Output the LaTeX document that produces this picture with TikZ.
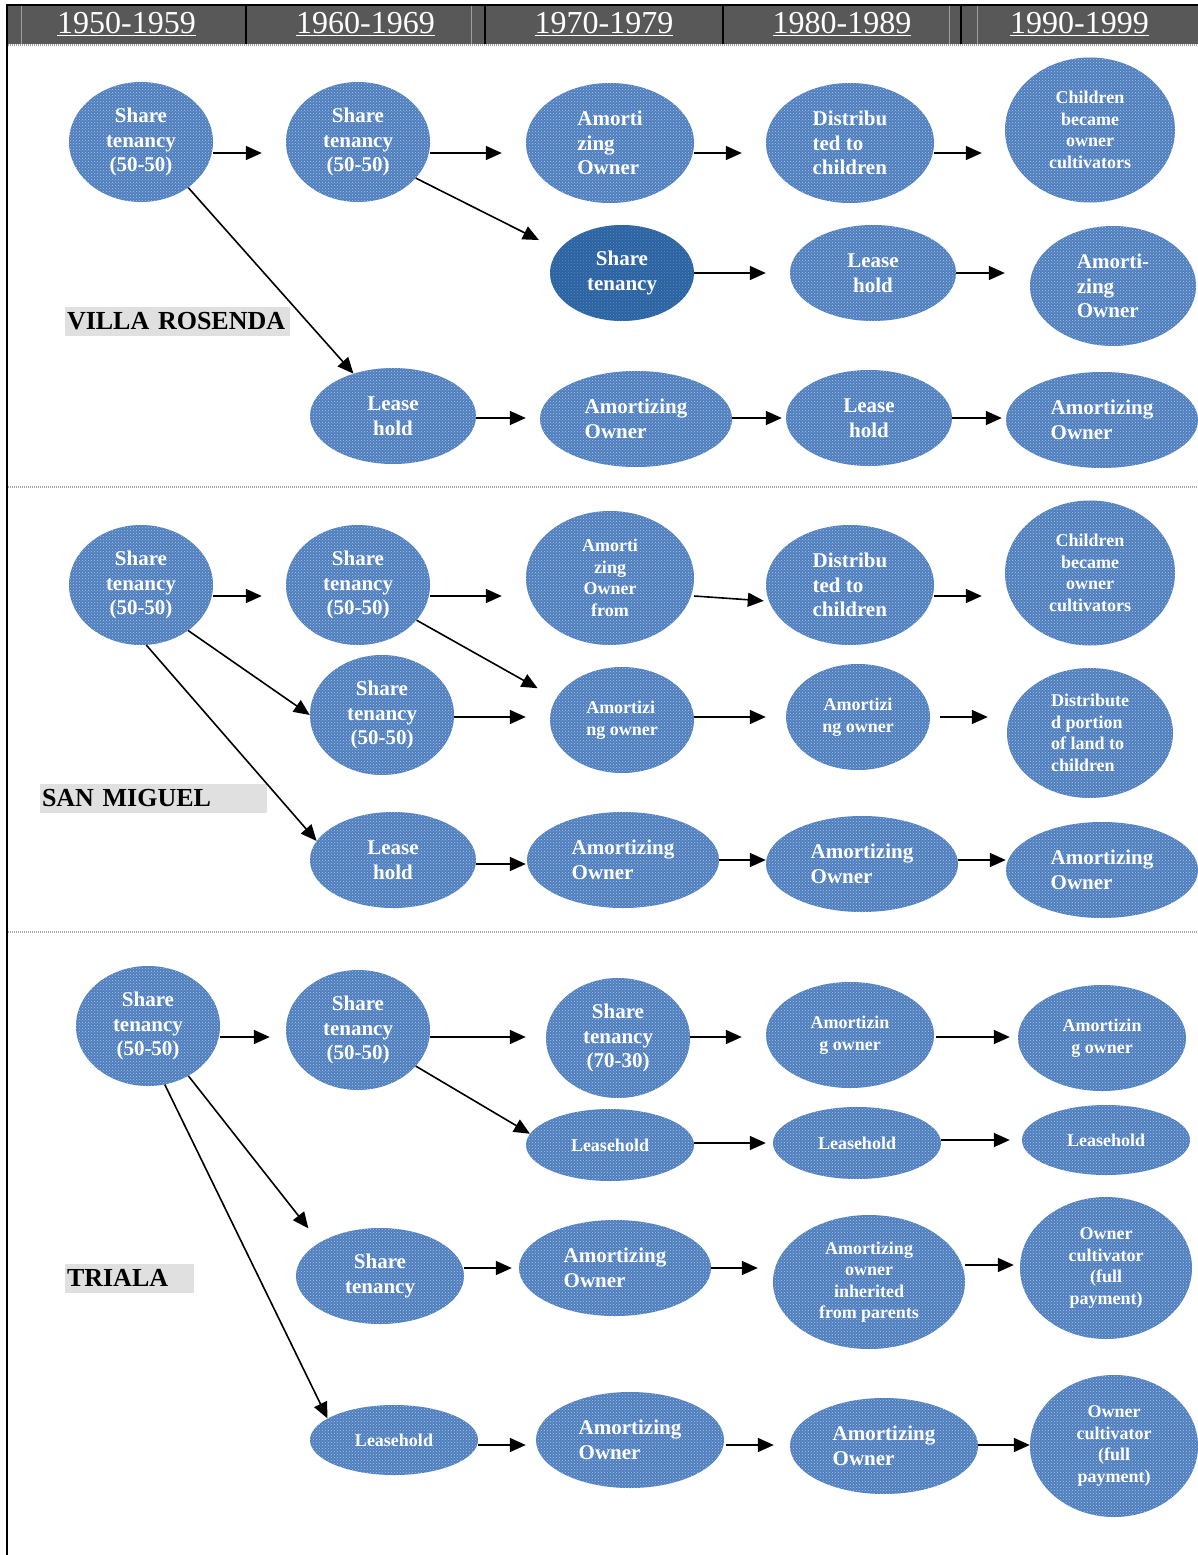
\documentclass[tikz,border=0pt]{standalone}
\usepackage{fontspec}
\setmainfont{Liberation Serif}
\usetikzlibrary{shapes.geometric,arrows.meta,patterns,calc}

\definecolor{blob}{RGB}{78,126,190}
\definecolor{blobdark}{RGB}{42,98,162}
\definecolor{headgray}{RGB}{88,88,88}
\definecolor{tag}{RGB}{224,224,224}

\tikzset{
  stagebase/.style={ellipse, inner sep=0pt, text=white, align=center,
    font=\bfseries\fontsize{21}{24.5}\selectfont},
  stage/.style={stagebase, preaction={fill=blob}, pattern=crosshatch dots,
    pattern color=white!55!blob},
  stagedark/.style={stagebase, preaction={fill=blobdark}, pattern=crosshatch dots,
    pattern color=white!25!blobdark},
  smalltext/.style={font=\bfseries\fontsize{18}{21.5}\selectfont},
  sz/.style 2 args={minimum width=#1pt, minimum height=#2pt},
  arr/.style={line width=1.6pt, -{Triangle[length=16pt,width=14pt]}},
  tagbox/.style={fill=tag, inner xsep=2pt, inner ysep=0pt, minimum height=29pt,
    align=left, text=black, font=\bfseries\fontsize{26}{26}\selectfont},
  year/.style={text=white, font=\fontsize{32}{32}\selectfont},
  sepline/.style={gray!70, line width=1.5pt, dash pattern=on 1pt off 1pt},
}

% horizontal arrow: [start gap]{from}{to}{vertical offset}{end gap}
\newcommand\hto[5][0pt]{%
  \draw[arr, shorten <=#1, shorten >=#5pt]
    ($(#2.east)+(0,#4)$) -- ($(#2.east -| #3.west)+(0,#4)$);}

\begin{document}
\begin{tikzpicture}[x=1pt, y=-1pt]
\useasboundingbox (0,0) rectangle (1198,1555);

% decade header
\fill[headgray] (7,5) rectangle (1198,44);
\foreach \gx in {21,471,949,977}
  \draw[gray!75, line width=0.8pt] (\gx,6) -- (\gx,44);
\draw[line width=2pt] (6,5) -- (1198,5);
\foreach \gx in {246,485,723,961}
  \draw[line width=1.6pt] (\gx,5) -- (\gx,44);
\draw[sepline] (8,45) -- (1198,45);
\node[year] (d50) at (126.5,24) {\underline{1950-1959}};
\node[year] (d60) at (365.5,24) {\underline{1960-1969}};
\node[year] (d70) at (604,24) {\underline{1970-1979}};
\node[year] (d80) at (842,24) {\underline{1980-1989}};
\node[year] (d90) at (1079.5,24) {\underline{1990-1999}};

% frame and section rules
\draw[line width=2pt] (6.5,5) -- (6.5,1555);
\draw[sepline] (8,487) -- (1198,487);
\draw[sepline] (8,932) -- (1198,932);

% ---------------- Villa Rosenda ----------------
\node[tagbox, text width=221pt] (vrtag) at (177.5,321.5) {VILLA ROSENDA};

\node[stage, sz={144}{120}] (vr11) at (141,142) {Share\\tenancy\\(50-50)};
\node[stage, sz={144}{120}] (vr12) at (358,142) {Share\\tenancy\\(50-50)};
\node[stage, sz={168}{120}, align=left] (vr13) at (610,143) {Amorti\\zing\\Owner};
\node[stage, sz={168}{120}, align=left] (vr14) at (850,143) {Distribu\\ted to\\children};
\node[stage, smalltext, sz={170}{145}] (vr15) at (1090,130) {Children\\became\\owner\\cultivators};
\node[stagedark, sz={144}{96}] (vr23) at (622,273) {Share\\tenancy};
\node[stage, sz={166}{96}] (vr24) at (873,273) {Lease\\hold};
\node[stage, sz={166}{120}, align=left] (vr25) at (1113,286) {Amorti-\\zing\\Owner};
\node[stage, sz={166}{96}] (vr32) at (393,416) {Lease\\hold};
\node[stage, sz={192}{96}, align=left] (vr33) at (636,419) {Amortizing\\Owner};
\node[stage, sz={166}{96}] (vr34) at (869,418) {Lease\\hold};
\node[stage, sz={192}{96}, align=left] (vr35) at (1102,420) {Amortizing\\Owner};

\hto{vr11}{vr12}{11}{24}
\hto{vr12}{vr13}{11}{24}
\hto{vr13}{vr14}{10}{24}
\hto{vr14}{vr15}{10}{23}
\hto{vr23}{vr24}{0}{24}
\hto{vr24}{vr25}{0}{25}
\hto{vr32}{vr33}{2}{14}
\hto{vr33}{vr34}{-1}{4}
\hto{vr34}{vr35}{0}{4}
\draw[arr] (vr11.-44) -- (vr32.133);
\draw[arr, shorten >=22pt] (vr12.-32) -- (vr23.160);

% ---------------- San Miguel ----------------
\node[tagbox, text width=223pt] (smtag) at (153.5,798) {SAN MIGUEL};

\node[stage, sz={144}{120}] (sm11) at (141,585) {Share\\tenancy\\(50-50)};
\node[stage, sz={144}{120}] (sm12) at (358,585) {Share\\tenancy\\(50-50)};
\node[stage, smalltext, sz={168}{134}] (sm13) at (610,578) {Amorti\\zing\\Owner\\from};
\node[stage, sz={168}{120}, align=left] (sm14) at (850,585) {Distribu\\ted to\\children};
\node[stage, smalltext, sz={170}{145}] (sm15) at (1090,573) {Children\\became\\owner\\cultivators};
\node[stage, sz={144}{120}] (sm22) at (382,715) {Share\\tenancy\\(50-50)};
\node[stage, smalltext, sz={144}{106}, align=left] (sm23) at (622,720) {Amortizi\\ng owner};
\node[stage, smalltext, sz={144}{106}] (sm24) at (858,717) {Amortizi\\ng owner};
\node[stage, smalltext, sz={166}{130}, align=left] (sm25) at (1090,733) {Distribute\\d portion\\of land to\\children};
\node[stage, sz={166}{96}] (sm32) at (393,860) {Lease\\hold};
\node[stage, sz={192}{96}, align=left] (sm33) at (623,860) {Amortizing\\Owner};
\node[stage, sz={192}{96}, align=left] (sm34) at (862,864) {Amortizing\\Owner};
\node[stage, sz={192}{96}, align=left] (sm35) at (1102,870) {Amortizing\\Owner};

\hto{sm11}{sm12}{11}{24}
\hto{sm12}{sm13}{11}{24}
\draw[arr, shorten >=2pt] ($(sm13.east)+(0,18)$) -- ($(sm14.west)+(0,16)$);
\hto{sm14}{sm15}{11}{23}
\hto{sm22}{sm23}{2}{24}
\hto{sm23}{sm24}{-3}{20}
\hto[10pt]{sm24}{sm25}{0}{19}
\hto{sm32}{sm33}{4}{1}
\hto{sm33}{sm34}{0}{0}
\hto{sm34}{sm35}{-4}{0}
\draw[arr] (sm11.-44) -- (sm22.west);
\draw[arr, shorten >=21pt] (sm12.-31) -- (sm23.162);
\draw[arr] (sm11.-85) -- (sm32.166);

% ---------------- Triala ----------------
\node[tagbox, text width=125pt] (trtag) at (129.5,1278) {TRIALA};

\node[stage, sz={144}{120}] (tr11) at (148,1026) {Share\\tenancy\\(50-50)};
\node[stage, sz={144}{120}] (tr12) at (358,1030) {Share\\tenancy\\(50-50)};
\node[stage, sz={144}{120}] (tr13) at (618,1038) {Share\\tenancy\\(70-30)};
\node[stage, smalltext, sz={168}{106}] (tr14) at (850,1035) {Amortizin\\g owner};
\node[stage, smalltext, sz={168}{106}] (tr15) at (1102,1038) {Amortizin\\g owner};
\node[stage, smalltext, sz={168}{72}] (tr23) at (610,1145) {Leasehold};
\node[stage, smalltext, sz={168}{72}] (tr24) at (857,1143) {Leasehold};
\node[stage, smalltext, sz={168}{70}] (tr25) at (1106,1140) {Leasehold};
\node[stage, sz={168}{96}] (tr32) at (380,1276) {Share\\tenancy};
\node[stage, sz={192}{96}, align=left] (tr33) at (615,1268) {Amortizing\\Owner};
\node[stage, smalltext, sz={192}{134}] (tr34) at (869,1282) {Amortizing\\owner\\inherited\\from parents};
\node[stage, smalltext, sz={172}{142}] (tr35) at (1106,1268) {Owner\\cultivator\\(full\\payment)};
\node[stage, smalltext, sz={168}{70}] (tr42) at (394,1440) {Leasehold};
\node[stage, sz={188}{96}, align=left] (tr43) at (630,1440) {Amortizing\\Owner};
\node[stage, sz={188}{96}, align=left] (tr44) at (884,1446) {Amortizing\\Owner};
\node[stage, smalltext, sz={168}{142}] (tr45) at (1114,1446) {Owner\\cultivator\\(full\\payment)};

\hto{tr11}{tr12}{11}{16}
\hto{tr12}{tr13}{7}{20}
\hto{tr13}{tr14}{-1}{24}
\hto[2pt]{tr14}{tr15}{2}{8}
\hto{tr23}{tr24}{-2}{7}
\hto{tr24}{tr25}{-3}{12}
\hto{tr32}{tr33}{-8}{7}
\hto{tr33}{tr34}{0}{15}
\hto{tr34}{tr35}{-17}{6}
\hto{tr42}{tr43}{5}{10}
\hto[2pt]{tr43}{tr44}{5}{16}
\hto{tr44}{tr45}{-1}{0}
\draw[arr, shorten >=18pt] (tr11.-51) -- (tr32.151);
\draw[arr] (tr11.-74) -- (tr42.162);
\draw[arr] (tr12.-32) -- (tr23.172);

\end{tikzpicture}
\end{document}
